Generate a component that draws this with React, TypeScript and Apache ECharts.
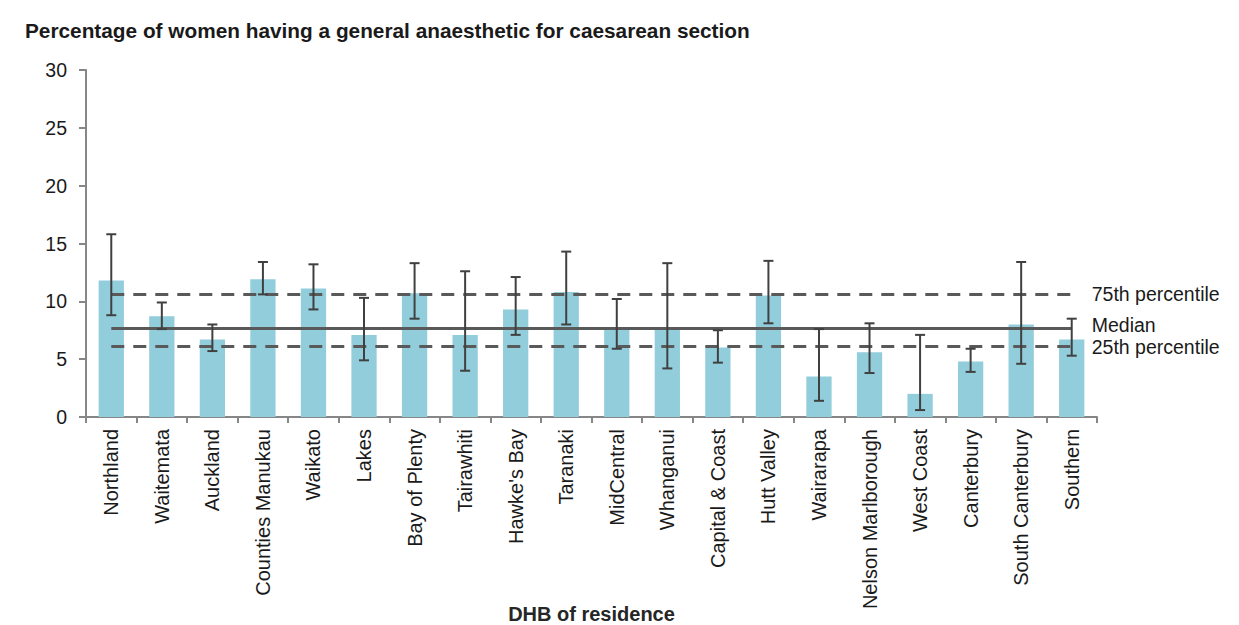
import React, { useEffect, useRef } from "react";
import * as echarts from "echarts";

const categories = [
  "Northland", "Waitemata", "Auckland", "Counties Manukau", "Waikato", "Lakes",
  "Bay of Plenty", "Tairawhiti", "Hawke's Bay", "Taranaki", "MidCentral", "Whanganui",
  "Capital & Coast", "Hutt Valley", "Wairarapa", "Nelson Marlborough", "West Coast",
  "Canterbury", "South Canterbury", "Southern",
];
const rates = [11.8, 8.7, 6.7, 11.9, 11.1, 7.1, 10.7, 7.1, 9.3, 10.8, 7.6, 7.6, 6.0, 10.5, 3.5, 5.6, 2.0, 4.8, 8.0, 6.7];
const lowerCI = [8.8, 7.6, 5.7, 10.6, 9.3, 4.9, 8.5, 4.0, 7.1, 8.0, 5.9, 4.2, 4.7, 8.1, 1.4, 3.8, 0.6, 3.9, 4.6, 5.3];
const upperCI = [15.8, 9.9, 8.0, 13.4, 13.2, 10.3, 13.3, 12.6, 12.1, 14.3, 10.2, 13.3, 7.5, 13.5, 7.6, 8.1, 7.1, 5.9, 13.4, 8.5];
const percentile75 = 10.65;
const median = 7.68;
const percentile25 = 6.12;
const yTicks = { min: 0, max: 30, interval: 5 };

const FONT = "'Liberation Sans', Arial, sans-serif";

export default function App() {
  const ref = useRef<HTMLDivElement>(null);
  useEffect(() => {
    document.body.style.margin = "0";
    const chart = echarts.init(ref.current!, null, { renderer: "svg" });
    const last = categories.length - 1;
    const refLine = (v: number, label: string, type: "solid" | "dashed", dy: number) => [
      {
        coord: [0, v],
        lineStyle: { type: type === "dashed" ? [13, 9] : "solid", color: "#595959", width: 3 },
        label: { formatter: label, offset: [0, dy] },
      },
      { coord: [last, v] },
    ];
    chart.setOption({
      animation: false,
      backgroundColor: "#ffffff",
      textStyle: { fontFamily: FONT },
      title: {
        text: "Percentage of women having a general anaesthetic for caesarean section",
        left: 25,
        top: 20,
        padding: 0,
        textStyle: { fontFamily: FONT, fontSize: 20.8, fontWeight: "bold", color: "#1a1a1a" },
      },
      grid: { left: 86, right: 142, top: 70, bottom: 208, containLabel: false, outerBoundsMode: "none" },
      xAxis: {
        type: "category",
        data: categories,
        name: "DHB of residence",
        nameLocation: "middle",
        nameGap: 188,
        nameMoveOverlap: false,
        nameTextStyle: { fontFamily: FONT, fontSize: 20, fontWeight: "bold", color: "#262626", lineHeight: 18 },
        axisLine: { lineStyle: { color: "#868686", width: 2 } },
        axisTick: { show: true, length: 6, lineStyle: { color: "#868686", width: 2 } },
        axisLabel: { rotate: 90, fontSize: 20, color: "#1a1a1a", margin: 12, interval: 0, fontFamily: FONT },
      },
      yAxis: {
        type: "value",
        min: yTicks.min,
        max: yTicks.max,
        interval: yTicks.interval,
        splitLine: { show: false },
        axisLine: { show: true, lineStyle: { color: "#868686", width: 2 } },
        axisTick: { show: true, length: 7, lineStyle: { color: "#868686", width: 2 } },
        axisLabel: { fontSize: 19.5, color: "#1a1a1a", margin: 19, fontFamily: FONT },
      },
      series: [
        {
          type: "bar",
          data: rates,
          barWidth: "50%",
          itemStyle: { color: "#92CDDC" },
          z: 1,
          markLine: {
            silent: true,
            symbol: "none",
            z: 3,
            label: {
              show: true,
              position: "end",
              distance: 20,
              fontSize: 19.5,
              lineHeight: 16,
              color: "#1a1a1a",
              fontFamily: FONT,
            },
            data: [
              refLine(percentile75, "75th percentile", "dashed", 0),
              refLine(median, "Median", "solid", -3),
              refLine(percentile25, "25th percentile", "dashed", 1),
            ],
          },
        },
        {
          type: "custom",
          z: 5,
          data: categories.map((_, i) => [i, lowerCI[i], upperCI[i]]),
          encode: { x: 0, y: [1, 2] },
          renderItem: (params: any, api: any) => {
            const x = api.value(0);
            const lo = api.coord([x, api.value(1)]);
            const hi = api.coord([x, api.value(2)]);
            const half = 5;
            const style = { stroke: "#404040", lineWidth: 2 };
            return {
              type: "group",
              children: [
                { type: "line", shape: { x1: lo[0], y1: lo[1], x2: hi[0], y2: hi[1] }, style },
                { type: "line", shape: { x1: lo[0] - half, y1: lo[1], x2: lo[0] + half, y2: lo[1] }, style },
                { type: "line", shape: { x1: hi[0] - half, y1: hi[1], x2: hi[0] + half, y2: hi[1] }, style },
              ],
            };
          },
        },
      ],
    });
    return () => chart.dispose();
  }, []);
  return (
    <div
      ref={ref}
      style={{ position: "absolute", left: 0, top: 0, width: 1239, height: 625, background: "#fff" }}
    />
  );
}
